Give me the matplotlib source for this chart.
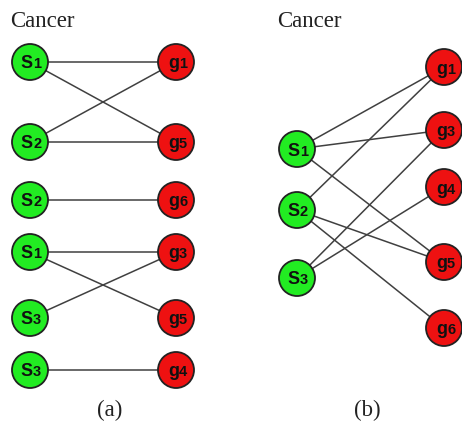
import matplotlib.pyplot as plt
from matplotlib.patches import Circle

# panel (a): six sample/gene pairs, edges as (row of sample, row of gene)
a_samples = ["S1", "S2", "S2", "S1", "S3", "S3"]
a_genes = ["g1", "g5", "g6", "g3", "g5", "g4"]
a_edges = [(0, 0), (0, 1), (1, 0), (1, 1), (2, 2), (3, 3), (3, 4), (4, 3), (5, 5)]

# panel (b): merged bipartite graph
b_samples = ["S1", "S2", "S3"]
b_genes = ["g1", "g3", "g4", "g5", "g6"]
b_edges = [(0, 0), (0, 1), (0, 3), (1, 0), (1, 3), (1, 4), (2, 1), (2, 2)]

titles = ["Cancer", "Cancer"]
captions = ["(a)", "(b)"]

GREEN = "#22ec22"
RED = "#ee1111"
R = 18

fig = plt.figure(figsize=(4.62, 4.24), dpi=100)
ax = fig.add_axes([0, 0, 1, 1])
ax.set_xlim(0, 462)
ax.set_ylim(424, 0)
ax.axis("off")


def node(x, y, label, color):
    ax.add_patch(Circle((x, y), R, facecolor=color, edgecolor="#222222",
                        lw=1.3, zorder=3))
    ax.text(x + 3, y + 6.5, label[0], ha="right", va="baseline",
            fontsize=13, fontweight="bold", family="Liberation Sans",
            color="#111111", zorder=4)
    ax.text(x + 3, y + 6.5, label[1:], ha="left", va="baseline",
            fontsize=10.5, fontweight="bold", family="Liberation Sans",
            color="#111111", zorder=4)


def graph(samples, genes, edges, xl, xr, yl, yr):
    for i, j in edges:
        ax.plot([xl, xr], [yl[i], yr[j]], color="#404040", lw=1.1, zorder=1)
    for y, s in zip(yl, samples):
        node(xl, y, s, GREEN)
    for y, g in zip(yr, genes):
        node(xr, y, g, RED)


rows_a = [62, 142, 200, 252, 318, 370]
graph(a_samples, a_genes, a_edges, 30, 176, rows_a, rows_a)
graph(b_samples, b_genes, b_edges, 297, 444,
      [149, 210, 278], [67, 130, 187, 262, 328])

for x, t in zip([10, 277], titles):
    ax.text(x, 27, t, ha="left", va="baseline", fontsize=16.5,
            family="Liberation Serif", color="#222222")
for x, c in zip([110, 367], captions):
    ax.text(x, 416, c, ha="center", va="baseline", fontsize=16.5,
            family="Liberation Serif", color="#222222")

fig.savefig("out.png", dpi=100)
